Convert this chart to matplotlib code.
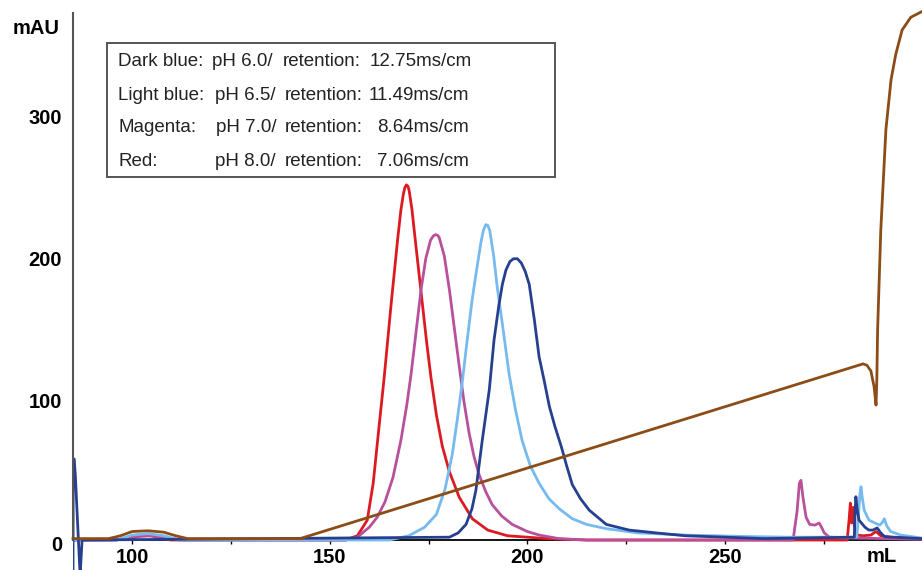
import matplotlib.pyplot as plt
from matplotlib.patches import Rectangle
from matplotlib.ticker import MultipleLocator
from matplotlib.transforms import ScaledTranslation

plt.rcParams['font.family'] = ['Liberation Sans', 'DejaVu Sans']

# traces (x in mL, y in mAU)
red_x = [85, 95, 100, 102, 105, 107, 110, 154, 157, 159.5, 161, 162.3, 163.8, 165.5,
         167.2, 168.0, 168.6, 169.0, 169.4, 169.8, 170.1, 170.8, 171.5, 173.1, 174.5,
         175.6, 177, 178.5, 180.3, 182.8, 186.1, 190, 195, 205, 215, 281.0, 281.5,
         281.8, 282.1, 282.3, 282.5, 282.8, 283.5, 285, 287, 288.3, 289.5, 292, 300]
red_y = [0, 0, 1, 3, 3, 1, 0, 0, 3, 14, 40, 75, 115, 165,
         212, 232, 243, 248, 250, 249, 246, 233, 215, 175, 140,
         115, 88, 66, 48, 30, 15, 7, 3, 1, 0, 0, 15,
         26, 12, 15, 23, 10, 3.5, 3, 3.5, 6, 3, 2, 1]

magenta_x = [85, 96, 100, 104, 108, 112, 154, 157, 160, 162, 164, 166, 168, 169.5,
             170.6, 172, 173.1, 174.3, 175.5, 176.2, 176.8, 177.3, 177.7, 179, 180.3,
             181.5, 182.8, 184, 185.3, 186.5, 187.8, 189.5, 191.1, 193.5, 196.2, 200,
             203, 208, 215, 267.3, 268.3, 268.9, 269.3, 269.8, 270.6, 271.5, 272.8,
             273.9, 274.5, 275.2, 276.5, 281, 300]
magenta_y = [0, 0, 2, 3, 2, 0, 0, 2, 9, 16, 27, 44, 70, 95,
             117, 150, 176, 198, 211, 214, 215, 214.5, 213, 200, 176,
             150, 122, 97, 75, 59, 46, 34, 25, 17, 11, 6,
             3.5, 1, 0, 0, 20, 40, 42, 30, 16, 11, 10.5,
             12, 9, 5, 2, 1.5, 0.5]

lightblue_x = [85, 96, 100, 104, 108, 112, 165, 170, 174, 177, 179.2, 181, 182.3, 183.5,
               184.8, 186, 187, 188.3, 188.9, 189.5, 190.0, 190.5, 191.5, 192.4, 193.9,
               195.4, 197, 198.7, 200.8, 203, 205.5, 208.1, 211.4, 215, 220, 228, 240,
               255, 266, 283.4, 283.8, 284.2, 284.5, 284.8, 285.3, 286.5, 288.0, 289.2,
               289.8, 290.4, 291.0, 292, 294.5, 299.9]
lightblue_y = [0, 0, 3.5, 4.5, 3, 0, 0, 3, 9, 18, 36, 60, 85, 110,
               141, 168, 187, 210, 218, 222, 221.5, 218, 200, 178, 148,
               117, 92, 70, 52, 40, 29, 22, 15, 11, 8, 5, 3.5,
               2.5, 2, 2, 15, 32, 37.5, 30, 21, 14, 12, 10.5,
               12, 15, 10, 6, 3.5, 1.4]

darkblue_x = [85.0, 85.05, 85.3, 85.6, 86.2, 86.8, 87.3, 180.3, 182.5, 184.5, 186, 187,
              188.6, 190.4, 191.6, 192.8, 193.7, 194.6, 195.6, 196.5, 197.5, 198.5,
              199.5, 200.5, 201.8, 203, 204.3, 205.6, 207, 208.7, 210, 211.4, 213.5,
              215.7, 220, 225.8, 232.7, 240, 250, 260, 282.8, 283.0, 283.2, 283.5,
              284.0, 285.5, 286.5, 287.5, 288.6, 289.5, 290.5, 300]
darkblue_y = [-25, 56, 57, 45, 10, -25, 0, 2, 5, 11, 22, 35,
              70, 106, 141, 165, 180, 190, 196, 198, 198, 195,
              189, 180, 155, 129, 112, 94, 80, 65, 52, 39, 29,
              21, 11, 7, 5, 3, 2, 1, 2, 20, 30.5, 22,
              14, 9, 7, 7, 8.5, 5, 2.3, 1]

gradient_x = [85, 94, 97, 100, 104, 108, 111, 114, 142.5, 285, 286, 287, 287.8, 288.3,
              288.5, 288.7, 289.5, 290.8, 292.1, 293.3, 294.9, 297.1, 299.9]
gradient_y = [1, 1, 3, 6, 6.5, 5.5, 3, 1, 1, 124, 123, 119, 108, 95,
              113, 148, 218, 289, 324, 342, 359, 368, 372]

names = ['Dark blue:', 'Light blue:', 'Magenta:', 'Red:']
ph = ['pH 6.0/', 'pH 6.5/', 'pH 7.0/', 'pH 8.0/']
retention = ['12.75ms/cm', '11.49ms/cm', '8.64ms/cm', '7.06ms/cm']

fig = plt.figure(figsize=(9.22, 5.70), dpi=100)
ax = fig.add_axes([73/922, 0, 849/922, 557/570])

ax.plot(red_x, red_y, color='#dc1a22', lw=2.0)
ax.plot(magenta_x, magenta_y, color='#b8509c', lw=2.0)
ax.plot(lightblue_x, lightblue_y, color='#76baee', lw=2.0)
ax.plot(darkblue_x, darkblue_y, color='#26408f', lw=2.0)
ax.plot(gradient_x, gradient_y, color='#8b4c16', lw=2.0, clip_on=False)

ax.set_xlim(85, 85 + 849/3.95)
ax.set_ylim(-21.1, 371)

for s in ['top', 'right']:
    ax.spines[s].set_visible(False)
ax.spines['left'].set_bounds(0, 371)
ax.spines['left'].set_color('#555555')
ax.spines['left'].set_linewidth(1.5)
ax.spines['bottom'].set_position(('data', 0))
ax.spines['bottom'].set_linewidth(1.3)
ax.spines['bottom'].set_zorder(1)

ax.xaxis.set_major_locator(MultipleLocator(50))
ax.xaxis.set_minor_locator(MultipleLocator(25))
ax.tick_params(axis='x', which='both', direction='out', length=3, width=1, pad=3,
               labelsize=14.5)
ax.set_xticks([100, 150, 200, 250])
ax.set_yticks([0, 100, 200, 300])
ax.tick_params(axis='y', length=0, pad=8, labelsize=14.5)
for lab in ax.get_xticklabels() + ax.get_yticklabels():
    lab.set_fontweight('bold')
offset = ScaledTranslation(0, -0.03, fig.dpi_scale_trans)
for lab in ax.get_yticklabels():
    lab.set_transform(lab.get_transform() + offset)

fig.text(36/922, 1 - 28/570, 'mAU', ha='center', va='center', fontsize=14.5,
         fontweight='bold')
fig.text(882/922, 1 - 556/570, 'mL', ha='center', va='center', fontsize=14.5,
         fontweight='bold')

# legend box
fig.patches.append(Rectangle((107/922, 1 - 177/570), 448/922, 134/570,
                             transform=fig.transFigure, fill=False,
                             edgecolor='#555555', lw=1.4))
rows_y = [62, 95, 128, 161]
ph_x = [212, 215, 216, 215]
ret_x = [283, 285, 285, 285]
val_x = [370, 369, 377, 377]
for i in range(4):
    yy = 1 - rows_y[i]/570
    fig.text(118/922, yy, names[i], va='center', fontsize=13.5, color='#222222')
    fig.text(ph_x[i]/922, yy, ph[i], va='center', fontsize=13.5, color='#222222')
    fig.text(ret_x[i]/922, yy, 'retention:', va='center', fontsize=13.5,
             color='#222222')
    fig.text(val_x[i]/922, yy, retention[i], va='center', fontsize=13.5,
             color='#222222')

fig.savefig('out.png', dpi=100)
